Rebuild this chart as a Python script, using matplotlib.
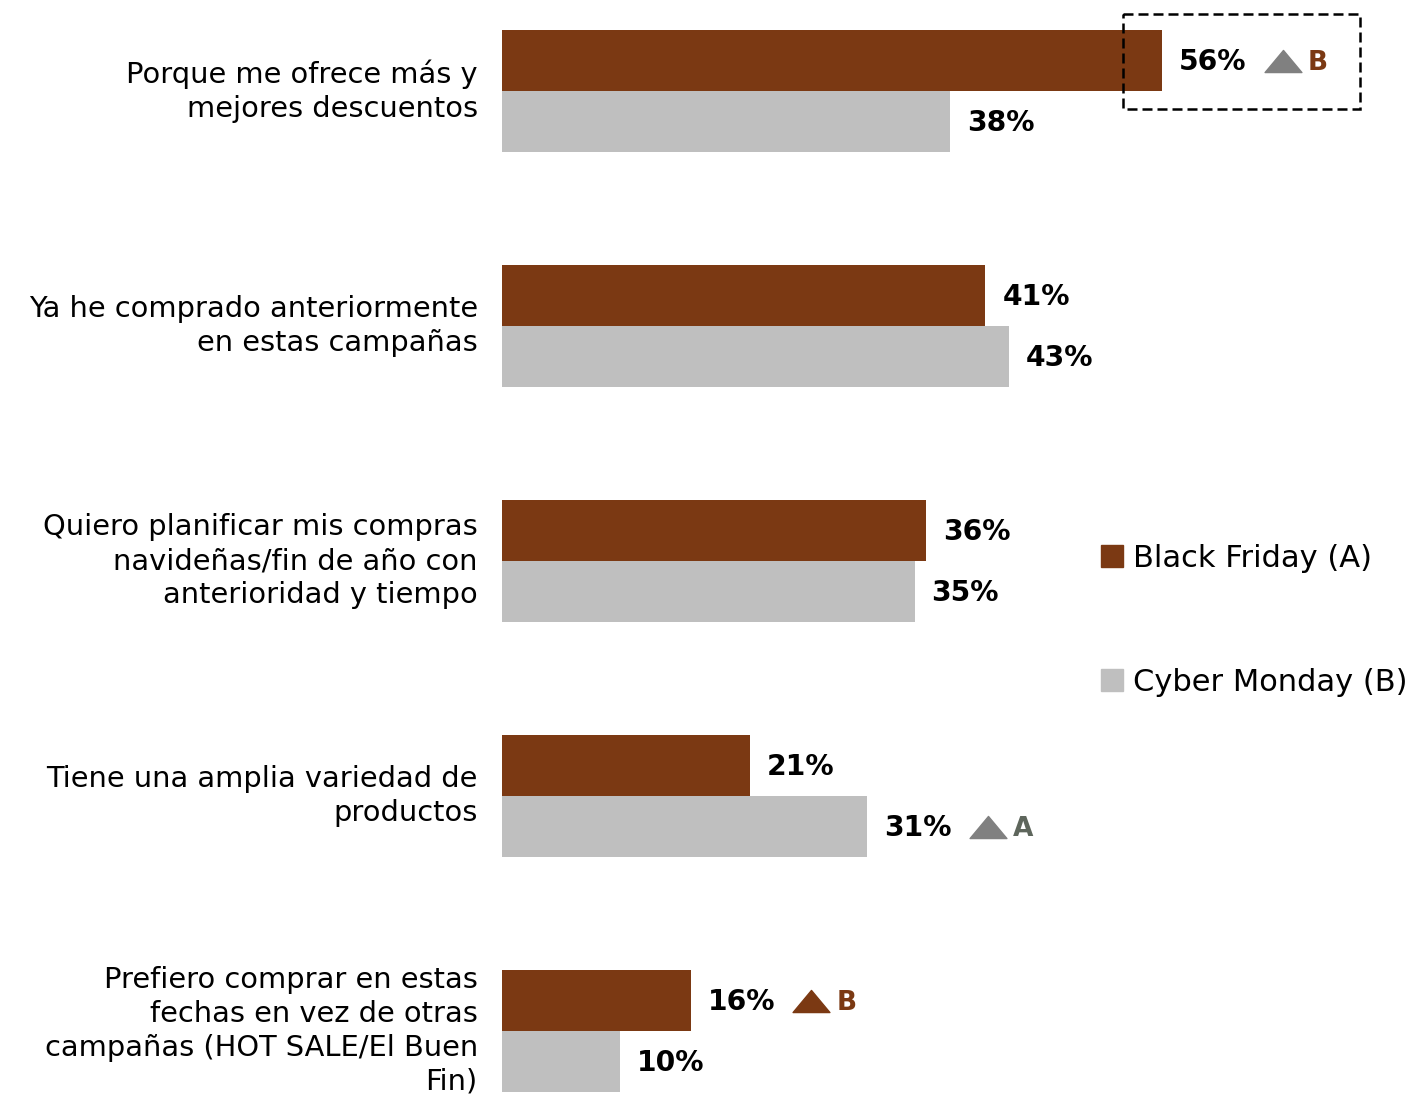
import matplotlib.pyplot as plt
import matplotlib.patches as mpatches
from matplotlib.path import Path
import numpy as np

plt.rcParams['font.family'] = ['DejaVu Sans']

categories = [
    'Porque me ofrece más y\nmejores descuentos',
    'Ya he comprado anteriormente\nen estas campañas',
    'Quiero planificar mis compras\nnavideñas/fin de año con\nanterioridad y tiempo',
    'Tiene una amplia variedad de\nproductos',
    'Prefiero comprar en estas\nfechas en vez de otras\ncampañas (HOT SALE/El Buen\nFin)',
]
black_friday = [56, 41, 36, 21, 16]
cyber_monday = [38, 43, 35, 31, 10]
series_names = ['Black Friday (A)', 'Cyber Monday (B)']

# significance marks: (category index, series index, letter, triangle colour, letter colour)
sig_marks = [
    (0, 0, 'B', '#808080', '#7B3913'),
    (3, 1, 'A', '#808080', '#5E665C'),
    (4, 0, 'B', '#7B3913', '#7B3913'),
]
boxed = (0, 0)

brown = '#7B3913'
grey = '#BFBFBF'

W, H = 1424, 1097
fig = plt.figure(figsize=(W / 100, H / 100), dpi=100)
ax = fig.add_axes([0, 0, 1, 1])

px_per_pct = 11.786
x0_px = 502
ax.set_xlim(-x0_px / px_per_pct, (W - x0_px) / px_per_pct)
group_px = 235
ax.set_ylim((H - 91) / group_px, -91 / group_px)
ax.axis('off')

y = np.arange(len(categories))
h = 61 / group_px
series = [black_friday, cyber_monday]
colors = [brown, grey]
offsets = [-h / 2, h / 2]
for vals, c, off, name in zip(series, colors, offsets, series_names):
    ax.barh(y + off, vals, height=h, color=c, label=name)

for i, cat in enumerate(categories):
    ax.text(-2.05, i, cat, ha='right', va='center', fontsize=20.8,
            linespacing=1.27, color='black')

fig.canvas.draw()
renderer = fig.canvas.get_renderer()
inv = ax.transData.inverted()

tri = Path([(-1, -0.6), (1, -0.6), (0, 0.6), (-1, -0.6)],
           [Path.MOVETO, Path.LINETO, Path.LINETO, Path.CLOSEPOLY])

labels = {}
for s, (vals, off) in enumerate(zip(series, offsets)):
    for i, v in enumerate(vals):
        t = ax.text(v + 1.45, i + off + 0.006, f'{v}%', ha='left', va='center',
                    fontsize=20.3, fontweight='bold', color='black')
        labels[(i, s)] = t

for i, s, letter, tc, lc in sig_marks:
    t = labels[(i, s)]
    bb = t.get_window_extent(renderer)
    yc = i + offsets[s]
    xd, _ = inv.transform((bb.x1 + 36, 0))
    ax.plot([xd], [yc], marker=tri, markersize=26.5, color=tc, linestyle='none')
    xl, _ = inv.transform((bb.x1 + 61, 0))
    ax.text(xl, yc + 0.01, letter, ha='left', va='center', fontsize=19,
            fontweight='heavy', color=lc)

bi, bs = boxed
bv = series[bs][bi]
rect = mpatches.Rectangle((bv - 3.3, bi + offsets[bs] - 0.2), 20.1, 0.405,
                          fill=False, linestyle=(0, (4, 2)), linewidth=1.8,
                          edgecolor='black')
ax.add_patch(rect)

handles = [mpatches.Patch(color=c) for c in colors]
fig.legend(handles, series_names, loc='upper left',
           bbox_to_anchor=(1101 / W, 1 - 544 / H), frameon=False,
           fontsize=22, handlelength=0.72, handleheight=0.72,
           handletextpad=0.33, labelspacing=3.1, borderpad=0,
           borderaxespad=0)

fig.savefig('out.png', dpi=100)
